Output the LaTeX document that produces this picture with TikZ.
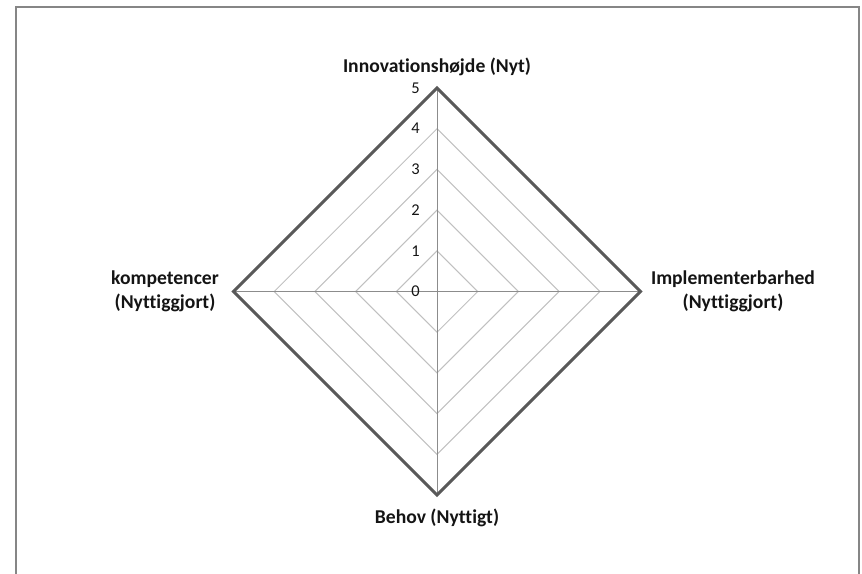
\documentclass[tikz,border=0pt]{standalone}
\usepackage{fontspec}
\setmainfont{Carlito}[RawFeature={-liga;-clig;-dlig}]
\usetikzlibrary{calc}
\definecolor{framegray}{RGB}{134,134,134}
\definecolor{spokegray}{RGB}{140,140,140}
\definecolor{ringgray}{RGB}{192,192,192}
\definecolor{seriesgray}{RGB}{89,89,89}
\definecolor{labelblack}{RGB}{20,20,20}
\tikzset{
  frameline/.style={draw=framegray, line width=2pt},
  spoke/.style={draw=spokegray, line width=1pt},
  ring/.style={draw=ringgray, line width=1pt},
  series/.style={draw=seriesgray, line width=3pt, line join=miter},
  axislabel/.style={font=\fontsize{19.6}{24}\selectfont\bfseries, text=labelblack, align=center, inner sep=0pt},
  ticklabel/.style={font=\fontsize{16.5}{18}\selectfont, text=labelblack, anchor=east, inner sep=0pt}
}
\begin{document}
\begin{tikzpicture}[x=1pt,y=-1pt]
  \useasboundingbox (0,0) rectangle (862,573);
  % chart frame (open at the bottom)
  \begin{scope}
    \clip (0,0) rectangle (862,573);
    \draw[frameline] (15.5,590) -- (15.5,6.7) -- (859,6.7) -- (859,590);
  \end{scope}
  % centre and radius of one step
  \coordinate (c) at (437,291.5);
  \def\stepr{40.7}
  % grid rings 1..4
  \foreach \k in {1,...,4} {
    \draw[ring] ($(c)+(0,-\k*\stepr)$) -- ($(c)+(\k*\stepr,0)$) -- ($(c)+(0,\k*\stepr)$) -- ($(c)+(-\k*\stepr,0)$) -- cycle;
  }
  % axis spokes
  \coordinate (top) at ($(c)+(0,-5*\stepr)$);
  \coordinate (right) at ($(c)+(5*\stepr,0)$);
  \coordinate (bottom) at ($(c)+(0,5*\stepr)$);
  \coordinate (left) at ($(c)+(-5*\stepr,0)$);
  \draw[spoke] (c) -- (top);
  \draw[spoke] (c) -- (right);
  \draw[spoke] (c) -- (bottom);
  \draw[spoke] (c) -- (left);
  % data series (all values 5)
  \draw[series] (top) -- (right) -- (bottom) -- (left) -- cycle;
  % scale values
  \foreach \k in {0,...,5} {
    \node[ticklabel] (t\k) at ($(c)+(-17,-\k*\stepr)$) {\k};
  }
  % axis titles
  \node[axislabel] (lt) at (437,67) {Innovationshøjde (Nyt)};
  \node[axislabel] (lr) at (733,291) {Implementerbarhed\\(Nyttiggjort)};
  \node[axislabel] (lb) at (437,518) {Behov (Nyttigt)};
  \node[axislabel] (ll) at (165,291) {kompetencer\\(Nyttiggjort)};
\end{tikzpicture}
\end{document}
